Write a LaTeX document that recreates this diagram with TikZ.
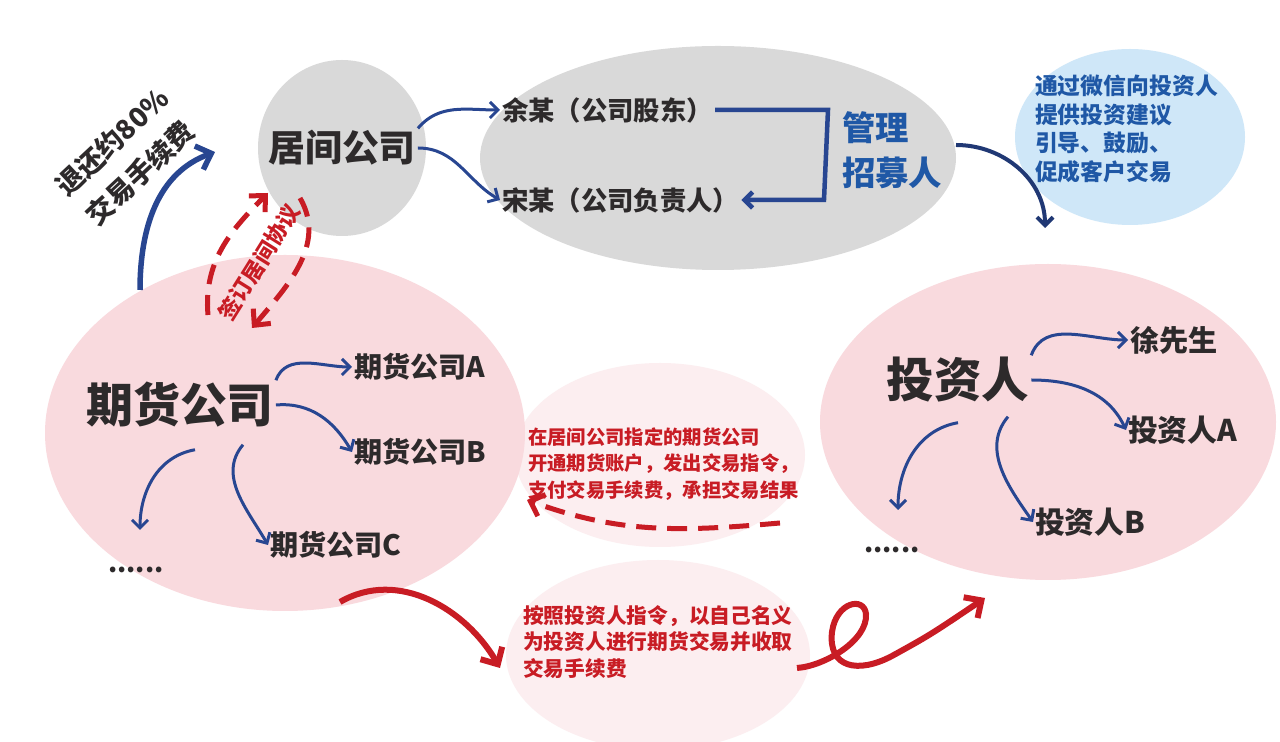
\documentclass[tikz,border=0pt]{standalone}
\usepackage{fontspec}
\setmainfont{Noto Sans CJK SC}
\usetikzlibrary{arrows.meta,positioning}
\definecolor{blobgray}{RGB}{217,217,217}
\definecolor{blobpink}{RGB}{249,218,222}
\definecolor{blobpale}{RGB}{252,238,240}
\definecolor{blobblue}{RGB}{207,231,248}
\definecolor{inkdark}{RGB}{45,42,43}
\definecolor{inkblue}{RGB}{31,88,166}
\definecolor{inknavy}{RGB}{40,70,145}
\definecolor{inkred}{RGB}{200,28,36}

\begin{document}
\begin{tikzpicture}%
	[x=0.2mm, y=-0.2mm,
	darktxt/.style={inner sep=1pt, text=inkdark},
	bluetxt/.style={inner sep=1pt, text=inkblue},
	redtxt/.style={inner sep=1pt, text=inkred},
	navyarrow/.style={-{Straight Barb[length=1.6mm,width=3.2mm]}, draw=inknavy, line width=0.6mm},
	fatarrow/.style={-{Straight Barb[length=2.6mm,width=5mm]}, draw=inknavy, line width=1.1mm},
	redarrow/.style={-{Straight Barb[length=2.6mm,width=5mm]}, draw=inkred, line width=1.2mm},
	reddash/.style={-{Straight Barb[length=2.4mm,width=4.6mm]}, draw=inkred, line width=1mm, dash pattern=on 4mm off 2.2mm}]
%
\useasboundingbox[fill=white] (0,0) rectangle (1280,742);
%%
%% Drawing the blobs
%%
\fill[blobpale] (660,455) ellipse [x radius=145, y radius=92];
\fill[blobpale] (658,655) ellipse [x radius=152, y radius=95];
\fill[blobgray] (342,148) ellipse [x radius=84, y radius=88];
\fill[blobgray] (718,158) ellipse [x radius=238, y radius=112];
\fill[blobblue] (1130,137) ellipse [x radius=115, y radius=88];
\fill[blobpink] (285,433) ellipse [x radius=240, y radius=178];
\fill[blobpink] (1048,422) ellipse [x radius=228, y radius=158];
%%
%% Text
%%
\node[darktxt, font=\bfseries\fontsize{21}{25}\selectfont] (jujian) at (342,148) {居间公司};
\node[darktxt, font=\bfseries\fontsize{15}{17}\selectfont, anchor=west] (yu) at (500,110) {余某（公司股东）};
\node[darktxt, font=\bfseries\fontsize{15}{17}\selectfont, anchor=west] (song) at (500,200) {宋某（公司负责人）};
\node[bluetxt, font=\bfseries\fontsize{19}{25.5}\selectfont, align=left, anchor=west] (zhaomu) at (840,150) {管理\\招募人};
\node[bluetxt, font=\bfseries\fontsize{13}{16.4}\selectfont, align=left, anchor=west] (weixin) at (1033,129) {通过微信向投资人\\提供投资建议\\引导、鼓励、\\促成客户交易};
\node[darktxt, font=\bfseries\fontsize{15.5}{26}\selectfont, rotate=43] (tuihuan) at (112,142) {退还约80\%};
\node[darktxt, font=\bfseries\fontsize{15.5}{26}\selectfont, rotate=43] (shouxu) at (140,173) {交易手续费};
\node[redtxt, font=\bfseries\fontsize{12.5}{14}\selectfont, rotate=58] (qianding) at (259,262) {签订居间协议};
%
\node[darktxt, font=\bfseries\fontsize{26.7}{30}\selectfont] (qihuo) at (180,405) {期货公司};
\node[darktxt, font=\bfseries\fontsize{16}{19}\selectfont, anchor=west] (qhA) at (352,367) {期货公司A};
\node[darktxt, font=\bfseries\fontsize{16}{19}\selectfont, anchor=west] (qhB) at (352,452) {期货公司B};
\node[darktxt, font=\bfseries\fontsize{16}{19}\selectfont, anchor=west] (qhC) at (268,545) {期货公司C};
\node[darktxt, font=\bfseries\fontsize{15}{18}\selectfont, anchor=west] (qhdots) at (106,570) {......};
%
\node[darktxt, font=\bfseries\fontsize{27}{30}\selectfont] (touzi) at (958,380) {投资人};
\node[darktxt, font=\bfseries\fontsize{16.6}{19}\selectfont, anchor=west] (xu) at (1128,340) {徐先生};
\node[darktxt, font=\bfseries\fontsize{17}{20}\selectfont, anchor=west] (tzA) at (1126,430) {投资人A};
\node[darktxt, font=\bfseries\fontsize{17}{20}\selectfont, anchor=west] (tzB) at (1033,522) {投资人B};
\node[darktxt, font=\bfseries\fontsize{15}{18}\selectfont, anchor=west] (tzdots) at (862,550) {......};
%
\node[redtxt, font=\bfseries\fontsize{11}{15.2}\selectfont, align=left, anchor=west] (zhiding) at (526,464) {在居间公司指定的期货公司\\开通期货账户，发出交易指令，\\支付交易手续费，承担交易结果};
\node[redtxt, font=\bfseries\fontsize{11.8}{15}\selectfont, align=left, anchor=west] (anzhao) at (521,642) {按照投资人指令，以自己名义\\为投资人进行期货交易并收取\\交易手续费};
%%
%% Free ends
%%
\coordinate (refund0) at (140,290);
\coordinate (refund1) at (215,152);
\coordinate (signL0) at (208,315);
\coordinate (signL1) at (268,193);
\coordinate (signR0) at (300,198);
\coordinate (signR1) at (252,328);
\coordinate (recruit0) at (956,145);
\coordinate (recruit1) at (1045,228);
\coordinate (qhgo) at (140,530);
\coordinate (tzgo) at (898,510);
\coordinate (order0) at (780,523);
\coordinate (order1) at (527,500);
\coordinate (trade0) at (340,602);
\coordinate (trade1) at (500,668);
\coordinate (swirl0) at (797,668);
\coordinate (swirl1) at (985,598);
%%
%% Connectors
%%
\draw[fatarrow] (refund0) to[out=90, in=200] (refund1);
\draw[reddash] (signL0) to[out=95, in=225] (signL1);
\draw[reddash] (signR0) to[out=-60, in=50] (signR1);
\draw[navyarrow] (jujian.north east) to[out=50, in=180] (yu.west);
\draw[navyarrow] (jujian.east) to[out=0, in=150] (song.west);
\draw[navyarrow, line width=0.9mm] (yu.east) -- (828,110) -- (824,200) -- (song.east);
\draw[navyarrow, draw=inknavy!80!black, line width=0.8mm] (recruit0) to[out=0, in=90] (recruit1);
%
\draw[navyarrow] (qihuo.north east) to[out=70, in=180] (qhA.west);
\draw[navyarrow] (qihuo.east) to[out=5, in=120] (qhB.west);
\draw[navyarrow] ([shift={(15,20)}]qihuo.south) to[out=190, in=90] (qhgo);
\draw[navyarrow] ([shift={(63,15)}]qihuo.south) to[out=230, in=120] (qhC.west);
%
\draw[navyarrow] (touzi.north east) to[out=70, in=180] (xu.west);
\draw[navyarrow] (touzi.east) to[out=0, in=115] (tzA.west);
\draw[navyarrow] ([shift={(0,18)}]touzi.south) to[out=190, in=90] (tzgo);
\draw[navyarrow] ([shift={(50,12)}]touzi.south) to[out=230, in=125] (tzB.west);
%
\draw[reddash] (order0) to[out=185, in=-20] (order1);
\draw[redarrow] (trade0) to[out=30, in=120] (trade1);
\draw[redarrow] (swirl0) .. controls (825,666) and (868,640) .. (866,614)
	.. controls (864,596) and (836,602) .. (832,632)
	.. controls (828,668) and (858,674) .. (892,656)
	.. controls (930,635) .. (swirl1);

\end{tikzpicture}
\end{document}
